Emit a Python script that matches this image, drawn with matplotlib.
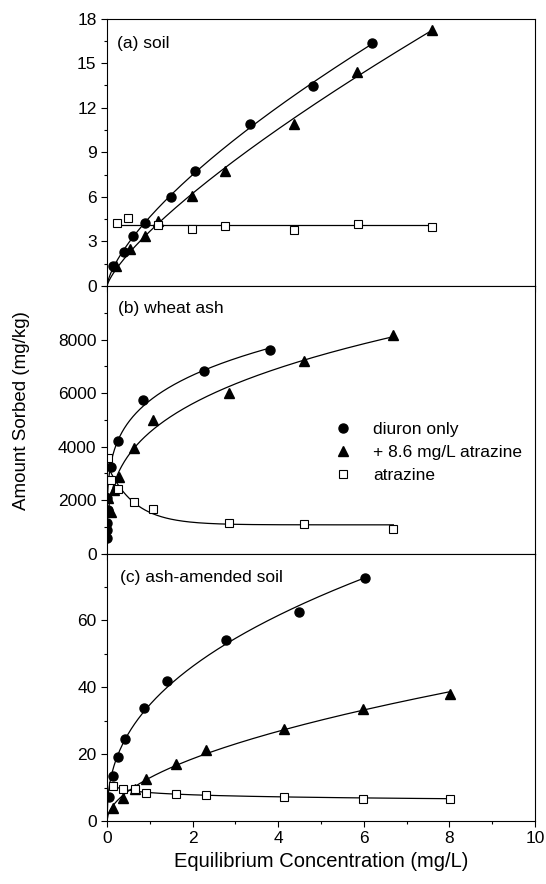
import numpy as np
import matplotlib
matplotlib.use('Agg')
import matplotlib.pyplot as plt
from matplotlib.ticker import MultipleLocator

plt.rcParams['font.family'] = ['Liberation Sans', 'DejaVu Sans']

# (a) soil
a_dx = [0.13, 0.39, 0.61, 0.89, 1.49, 2.06, 3.33, 4.81, 6.19]
a_dy = [1.33, 2.27, 3.35, 4.25, 5.96, 7.73, 10.88, 13.46, 16.36]
a_tx = [0.22, 0.53, 0.88, 1.19, 1.98, 2.75, 4.36, 5.85, 7.59]
a_ty = [1.37, 2.49, 3.39, 4.40, 6.04, 7.73, 10.92, 14.40, 17.26]
a_sx = [0.23, 0.50, 1.20, 1.98, 2.75, 4.36, 5.86, 7.59]
a_sy = [4.22, 4.58, 4.13, 3.86, 4.06, 3.75, 4.18, 3.96]

# (b) wheat ash
b_dx = [0.01, 0.01, 0.01, 0.03, 0.01, 0.09, 0.26, 0.84, 2.26, 3.80]
b_dy = [580, 871, 1144, 1640, 2093, 3238, 4210, 5757, 6816, 7601]
b_tx = [0.02, 0.10, 0.16, 0.27, 0.64, 1.07, 2.86, 4.61, 6.69]
b_ty = [2093, 1533, 2368, 2866, 3950, 4984, 6019, 7190, 8187]
b_sx = [0.02, 0.09, 0.25, 0.62, 1.07, 2.86, 4.61, 6.69]
b_sy = [3576, 2741, 2430, 1931, 1682, 1146, 1097, 910]

# (c) ash-amended soil
c_dx = [0.04, 0.13, 0.25, 0.41, 0.87, 1.40, 2.78, 4.49, 6.03]
c_dy = [7.08, 13.46, 19.24, 24.53, 33.9, 41.9, 54.1, 62.6, 72.6]
c_tx = [0.13, 0.37, 0.66, 0.91, 1.61, 2.32, 4.14, 5.99, 8.02]
c_ty = [3.79, 6.98, 9.47, 12.56, 17.05, 21.24, 27.42, 33.4, 37.99]
c_sx = [0.13, 0.37, 0.66, 0.91, 1.61, 2.32, 4.14, 5.99, 8.02]
c_sy = [10.47, 9.57, 9.47, 8.47, 7.98, 7.78, 7.28, 6.68, 6.48]


def freund(x, y):
    # least squares y = K x^n, grid over n
    x = np.asarray(x, float); y = np.asarray(y, float)
    best = None
    for n in np.linspace(-0.5, 1.5, 2001):
        f = x ** n
        K = np.sum(f * y) / np.sum(f * f)
        err = np.sum((K * f - y) ** 2)
        if best is None or err < best[0]:
            best = (err, K, n)
    return best[1], best[2]


def expfit(x, y):
    x = np.asarray(x); y = np.asarray(y)
    best = None
    for c in np.linspace(0.1, 3, 300):
        A = np.column_stack([np.ones_like(x), np.exp(-x / c)])
        coef, res, _, _ = np.linalg.lstsq(A, y, rcond=None)
        err = np.sum((A @ coef - y) ** 2)
        if best is None or err < best[0]:
            best = (err, coef[0], coef[1], c)
    return best[1:]


def fline(ax, x0, x1, K, n):
    xx = np.linspace(x0, x1, 300)
    ax.plot(xx, K * xx ** n, 'k-', lw=0.9)


fig = plt.figure(figsize=(5.46, 8.84), dpi=100)
gs = fig.add_gridspec(3, 1, left=0.196, right=0.980, top=0.979, bottom=0.0713, hspace=0)
axs = [fig.add_subplot(gs[i]) for i in range(3)]

mk = dict(ls='none', color='k')
ms_c, ms_t, ms_s = 6.5, 6.5, 5.2
fs = 12.5

# panel a
ax = axs[0]
K, n = freund(a_dx, a_dy); fline(ax, 0, max(a_dx), K, n)
K, n = freund(a_tx, a_ty); fline(ax, 0, max(a_tx), K, n)
ax.plot([min(a_sx), max(a_sx)], [np.mean(a_sy)] * 2, 'k-', lw=0.9)
ax.plot(a_dx, a_dy, 'o', ms=ms_c, **mk)
ax.plot(a_tx, a_ty, '^', ms=ms_t, **mk)
ax.plot(a_sx, a_sy, 's', ms=ms_s, mfc='white', mew=0.8, **mk)
ax.set_ylim(0, 18)
ax.yaxis.set_major_locator(MultipleLocator(3))
ax.yaxis.set_minor_locator(MultipleLocator(1.5))
ax.text(0.023, 0.907, '(a) soil', transform=ax.transAxes, fontsize=fs, va='center')

# panel b
ax = axs[1]
sel = [i for i in range(len(b_dx)) if b_dx[i] > 0.05]
K, n = freund([b_dx[i] for i in sel], [b_dy[i] for i in sel]); fline(ax, 0.01, max(b_dx), K, n)
sel = [i for i in range(len(b_tx)) if b_tx[i] > 0.2]
K, n = freund([b_tx[i] for i in sel], [b_ty[i] for i in sel]); fline(ax, 0.03, max(b_tx), K, n)
a0, b0, c0 = expfit(b_sx, b_sy)
xx = np.linspace(0.05, max(b_sx), 300)
ax.plot(xx, a0 + b0 * np.exp(-xx / c0), 'k-', lw=0.9)
ax.plot(b_dx, b_dy, 'o', ms=ms_c, label='diuron only', **mk)
ax.plot(b_tx, b_ty, '^', ms=ms_t, label='+ 8.6 mg/L atrazine', **mk)
ax.plot(b_sx, b_sy, 's', ms=ms_s, mfc='white', mew=0.8, label='atrazine', **mk)
ax.set_ylim(0, 10000)
ax.set_yticks([0, 2000, 4000, 6000, 8000])
ax.yaxis.set_minor_locator(MultipleLocator(1000))
ax.text(0.025, 0.915, '(b) wheat ash', transform=ax.transAxes, fontsize=fs, va='center')
ax.legend(loc='center left', bbox_to_anchor=(0.5, 0.378), frameon=False, fontsize=fs,
          handletextpad=1.0, labelspacing=0.45, handlelength=1.5, borderpad=0)

# panel c
ax = axs[2]
K, n = freund(c_dx, c_dy); fline(ax, 0, max(c_dx), K, n)
K, n = freund(c_tx, c_ty); fline(ax, 0, max(c_tx), K, n)
K, n = freund(c_sx, c_sy); fline(ax, min(c_sx), max(c_sx), K, n)
ax.plot(c_dx, c_dy, 'o', ms=ms_c, **mk)
ax.plot(c_tx, c_ty, '^', ms=ms_t, **mk)
ax.plot(c_sx, c_sy, 's', ms=ms_s, mfc='white', mew=0.8, **mk)
ax.set_ylim(0, 80)
ax.set_yticks([0, 20, 40, 60])
ax.yaxis.set_minor_locator(MultipleLocator(10))
ax.text(0.03, 0.91, '(c) ash-amended soil', transform=ax.transAxes, fontsize=fs, va='center')
ax.set_xlabel('Equilibrium Concentration (mg/L)', fontsize=14.5)

for i, ax in enumerate(axs):
    ax.set_xlim(0, 10)
    ax.xaxis.set_major_locator(MultipleLocator(2))
    ax.xaxis.set_minor_locator(MultipleLocator(1))
    ax.tick_params(which='both', direction='out', top=False, right=False, labelsize=fs, width=0.8)
    ax.tick_params(which='major', length=4)
    ax.tick_params(which='minor', length=2.5)
    for s in ax.spines.values():
        s.set_linewidth(0.8)
    if i < 2:
        ax.tick_params(labelbottom=False)

fig.text(0.04, 0.536, 'Amount Sorbed (mg/kg)', rotation=90, va='center', ha='center', fontsize=13.5)

fig.savefig('out.png', dpi=100)
